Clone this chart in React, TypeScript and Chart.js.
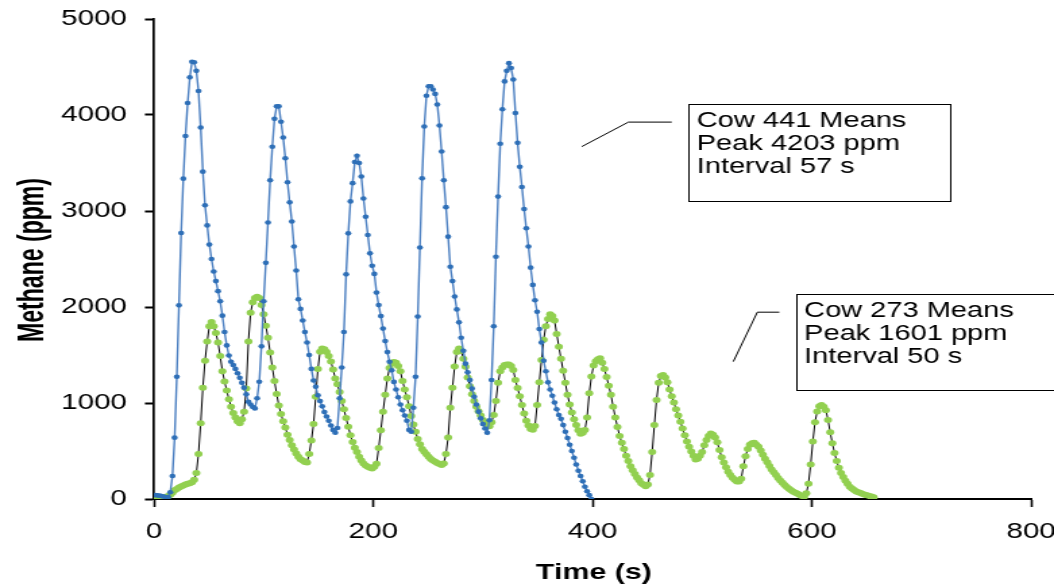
import React, { useEffect, useRef } from 'react';
import { Chart, registerables } from 'chart.js';

Chart.register(...registerables);

// ---- data ----
const sampleStartSeconds = 1;
const sampleIntervalSeconds = 1.98;

const cow441Methane = [
  40, 38, 35, 30, 25, 15, 20, 70, 240, 639,
  1274, 2017, 2771, 3337, 3781, 4125, 4392, 4555, 4550, 4460,
  4250, 3870, 3410, 3060, 2850, 2650, 2500, 2370, 2270, 2165,
  2060, 1910, 1740, 1600, 1495, 1430, 1395, 1355, 1310, 1262,
  1210, 1160, 1090, 1012, 985, 958, 944, 1050, 1222, 1590,
  2060, 2460, 2880, 3320, 3670, 3960, 4090, 4090, 3930, 3765,
  3550, 3300, 3090, 2890, 2630, 2380, 2080, 1980, 1860, 1740,
  1630, 1500, 1355, 1235, 1170, 1080, 1020, 965, 905, 860,
  815, 765, 720, 690, 740, 1050, 1370, 1740, 2340, 2767,
  3100, 3290, 3510, 3575, 3500, 3360, 3130, 2940, 2750, 2559,
  2430, 2345, 2150, 2020, 1905, 1775, 1645, 1530, 1430, 1340,
  1220, 1140, 1060, 985, 925, 870, 815, 720, 700, 950,
  1274, 1900, 2620, 3340, 3880, 4200, 4300, 4300, 4265, 4220,
  4110, 3890, 3620, 3320, 3040, 2733, 2420, 2270, 2110, 1975,
  1840, 1680, 1545, 1410, 1320, 1240, 1150, 1065, 985, 910,
  840, 780, 735, 690, 820, 1240, 1800, 2524, 3150, 3700,
  4060, 4350, 4460, 4540, 4490, 4370, 4020, 3710, 3460, 3250,
  3020, 2820, 2630, 2410, 2230, 2070, 1950, 1770, 1630, 1440,
  1330, 1215, 1140, 1075, 1005, 935, 875, 835, 770, 700,
  635, 565, 500, 430, 360, 295, 240, 185, 128, 80,
  40, 0,
];

const cow273Methane = [
  10, 8, 5, 5, 10, 20, 32, 45, 65, 90,
  105, 120, 130, 140, 150, 158, 165, 175, 200, 270,
  470, 790, 1160, 1440, 1640, 1800, 1845, 1800, 1730, 1630,
  1490, 1330, 1225, 1130, 1040, 960, 895, 850, 810, 790,
  830, 910, 1150, 1640, 1940, 2050, 2095, 2108, 2095, 2020,
  1925, 1805, 1680, 1525, 1370, 1230, 1095, 975, 885, 810,
  745, 670, 615, 560, 515, 475, 440, 415, 400, 385,
  380, 470, 610, 780, 1066, 1355, 1535, 1569, 1560, 1530,
  1490, 1432, 1350, 1255, 1195, 1115, 1020, 935, 845, 753,
  665, 595, 535, 490, 440, 400, 370, 350, 336, 326,
  319, 335, 368, 530, 715, 910, 1085, 1255, 1365, 1410,
  1428, 1418, 1385, 1330, 1230, 1140, 1060, 965, 865, 775,
  700, 625, 570, 522, 492, 467, 440, 417, 402, 388,
  375, 364, 355, 370, 470, 640, 950, 1160, 1380, 1530,
  1569, 1545, 1460, 1378, 1265, 1175, 1090, 1020, 962, 915,
  870, 823, 800, 782, 758, 800, 875, 1020, 1210, 1330,
  1370, 1396, 1400, 1400, 1385, 1344, 1240, 1155, 1070, 980,
  890, 815, 765, 730, 722, 760, 980, 1215, 1448, 1660,
  1800, 1875, 1925, 1905, 1860, 1720, 1587, 1460, 1335, 1210,
  1085, 985, 900, 830, 770, 715, 680, 690, 719, 850,
  1101, 1275, 1390, 1435, 1455, 1465, 1420, 1355, 1270, 1180,
  1085, 962, 850, 750, 655, 585, 520, 450, 395, 340,
  300, 260, 225, 195, 165, 148, 132, 150, 250, 490,
  770, 1031, 1210, 1280, 1292, 1265, 1215, 1140, 1070, 1005,
  935, 870, 805, 735, 665, 600, 545, 495, 450, 412,
  420, 450, 490, 560, 615, 655, 682, 670, 640, 590,
  510, 435, 380, 330, 285, 250, 222, 200, 182, 182,
  210, 340, 445, 520, 565, 582, 587, 565, 545, 505,
  460, 420, 383, 345, 308, 278, 250, 220, 192, 168,
  145, 125, 108, 92, 76, 64, 54, 42, 32, 24,
  60, 160, 360, 600, 800, 912, 965, 979, 960, 925,
  823, 695, 580, 480, 395, 325, 270, 228, 190, 158,
  128, 110, 95, 78, 70, 62, 52, 45, 38, 31,
  25, 18,
];

const xAxisMin = 0;
const xAxisMax = 800;
const xAxisStep = 200;
const yAxisMin = 0;
const yAxisMax = 5000;
const yAxisStep = 1000;
const xAxisTitle = 'Time (s)';
const yAxisTitle = 'Methane (ppm)';

const cow441CalloutText = ['Cow 441 Means', 'Peak 4203 ppm', 'Interval 57 s'];
const cow273CalloutText = ['Cow 273 Means', 'Peak 1601 ppm', 'Interval 50 s'];

// ---- layout / style ----
const CSS_W = 1054;
const CSS_H = 585;
const CANVAS_W = 781; // drawn narrower, then stretched horizontally like the reference
const FONT = "'Liberation Sans', Arial, Helvetica, sans-serif";

// callout geometry in data units: box [tLeft, tRight, ppmTop, ppmBottom], leader polyline
const cow441CalloutBox = [487.4, 726.8, 4113, 3105];
const cow441CalloutLeader = [[390.2, 3671], [432.7, 3926], [472.3, 3926]];
const cow273CalloutBox = [585.4, 820, 2136, 1136];
const cow273CalloutLeader = [[528.4, 1431], [550.3, 1946], [570.4, 1946]];

const toPoints = (vals: number[]) =>
  vals.map((v, i) => ({ x: sampleStartSeconds + i * sampleIntervalSeconds, y: v }));

const overlayPlugin = {
  id: 'overlayText',
  afterDraw(chart: any) {
    const { ctx, chartArea } = chart;
    const xs = chart.scales.x;
    const ys = chart.scales.y;
    ctx.save();
    const callouts = [
      { text: cow441CalloutText, box: cow441CalloutBox, leader: cow441CalloutLeader },
      { text: cow273CalloutText, box: cow273CalloutBox, leader: cow273CalloutLeader },
    ];
    for (const c of callouts) {
      ctx.strokeStyle = '#000';
      ctx.lineWidth = 1;
      ctx.beginPath();
      c.leader.forEach(([t, v]: number[], k: number) => {
        const px = xs.getPixelForValue(t);
        const py = ys.getPixelForValue(v);
        if (k === 0) ctx.moveTo(px, py);
        else ctx.lineTo(px, py);
      });
      ctx.stroke();
      const bx0 = xs.getPixelForValue(c.box[0]);
      const bx1 = xs.getPixelForValue(c.box[1]);
      const by0 = ys.getPixelForValue(c.box[2]);
      const by1 = ys.getPixelForValue(c.box[3]);
      ctx.fillStyle = '#fff';
      ctx.fillRect(bx0, by0, bx1 - bx0, by1 - by0);
      ctx.strokeRect(Math.round(bx0) + 0.5, Math.round(by0) + 0.5, Math.round(bx1 - bx0), Math.round(by1 - by0));
      ctx.fillStyle = '#000';
      ctx.font = `21.5px ${FONT}`;
      ctx.textAlign = 'left';
      ctx.textBaseline = 'alphabetic';
      c.text.forEach((s: string, k: number) => {
        ctx.fillText(s, bx0 + 6.2, by0 + 23.3 + k * 22.8);
      });
    }
    // x axis title
    ctx.fillStyle = '#000';
    ctx.font = `bold 22.5px ${FONT}`;
    ctx.textAlign = 'center';
    ctx.textBaseline = 'alphabetic';
    ctx.fillText(xAxisTitle, (chartArea.left + chartArea.right) / 2 + 1, 579);
    // y axis title (squeezed like the reference)
    ctx.translate(32, (chartArea.top + chartArea.bottom) / 2 + 1);
    ctx.rotate(-Math.PI / 2);
    ctx.font = `bold 27px ${FONT}`;
    ctx.fillText(yAxisTitle, 0, 0, 164);
    ctx.restore();
  },
};

export default function App() {
  const canvasRef = useRef<HTMLCanvasElement | null>(null);

  useEffect(() => {
    const canvas = canvasRef.current;
    if (!canvas) return;
    const chart = new Chart(canvas, {
      type: 'scatter',
      data: {
        datasets: [
          {
            label: 'Cow 441',
            data: toPoints(cow441Methane),
            showLine: true,
            borderColor: '#4b7fc1',
            borderWidth: 1.4,
            backgroundColor: '#2e6fb7',
            pointBackgroundColor: '#2e6fb7',
            pointBorderColor: '#2e6fb7',
            pointBorderWidth: 0,
            pointRadius: 2.3,
            tension: 0,
          },
          {
            label: 'Cow 273',
            data: toPoints(cow273Methane),
            showLine: true,
            borderColor: '#000000',
            borderWidth: 1,
            backgroundColor: '#92d050',
            pointBackgroundColor: '#92d050',
            pointBorderColor: '#92d050',
            pointBorderWidth: 0,
            pointRadius: 3,
            tension: 0,
          },
        ],
      },
      options: {
        responsive: false,
        animation: false,
        devicePixelRatio: 1,
        layout: { padding: { left: 0, right: 17, top: 19, bottom: 0 } },
        plugins: {
          legend: { display: false },
          tooltip: { enabled: false },
        },
        scales: {
          x: {
            type: 'linear',
            min: xAxisMin,
            max: xAxisMax,
            ticks: {
              stepSize: xAxisStep,
              color: '#000',
              font: { family: FONT, size: 22 },
              padding: 12,
              maxRotation: 0,
              callback: (v: any) => String(v),
            },
            grid: {
              drawOnChartArea: false,
              drawTicks: true,
              tickLength: 8,
              tickWidth: 1.6,
              tickColor: '#000',
            },
            border: { display: true, color: '#000', width: 2 },
            afterFit: (s: any) => {
              s.height = 86;
              s.paddingLeft = 0;
              s.paddingRight = 0;
            },
          },
          y: {
            type: 'linear',
            min: yAxisMin,
            max: yAxisMax,
            ticks: {
              stepSize: yAxisStep,
              color: '#000',
              font: { family: FONT, size: 22 },
              padding: 13.3,
              callback: (v: any) => String(v),
            },
            grid: {
              drawOnChartArea: false,
              drawTicks: true,
              tickLength: 6.7,
              tickWidth: 2,
              tickColor: '#000',
            },
            border: { display: true, color: '#000', width: 1.7 },
            afterFit: (s: any) => {
              s.width = 114.1;
              s.paddingTop = 0;
              s.paddingBottom = 0;
            },
          },
        },
      },
      plugins: [overlayPlugin],
    } as any);
    return () => chart.destroy();
  }, []);

  return (
    <div
      style={{
        position: 'fixed',
        left: 0,
        top: 0,
        width: CSS_W,
        height: CSS_H,
        background: '#fff',
        overflow: 'hidden',
      }}
    >
      <canvas
        ref={canvasRef}
        width={CANVAS_W}
        height={CSS_H}
        style={{ display: 'block', width: `${CSS_W}px`, height: `${CSS_H}px` }}
      />
    </div>
  );
}
